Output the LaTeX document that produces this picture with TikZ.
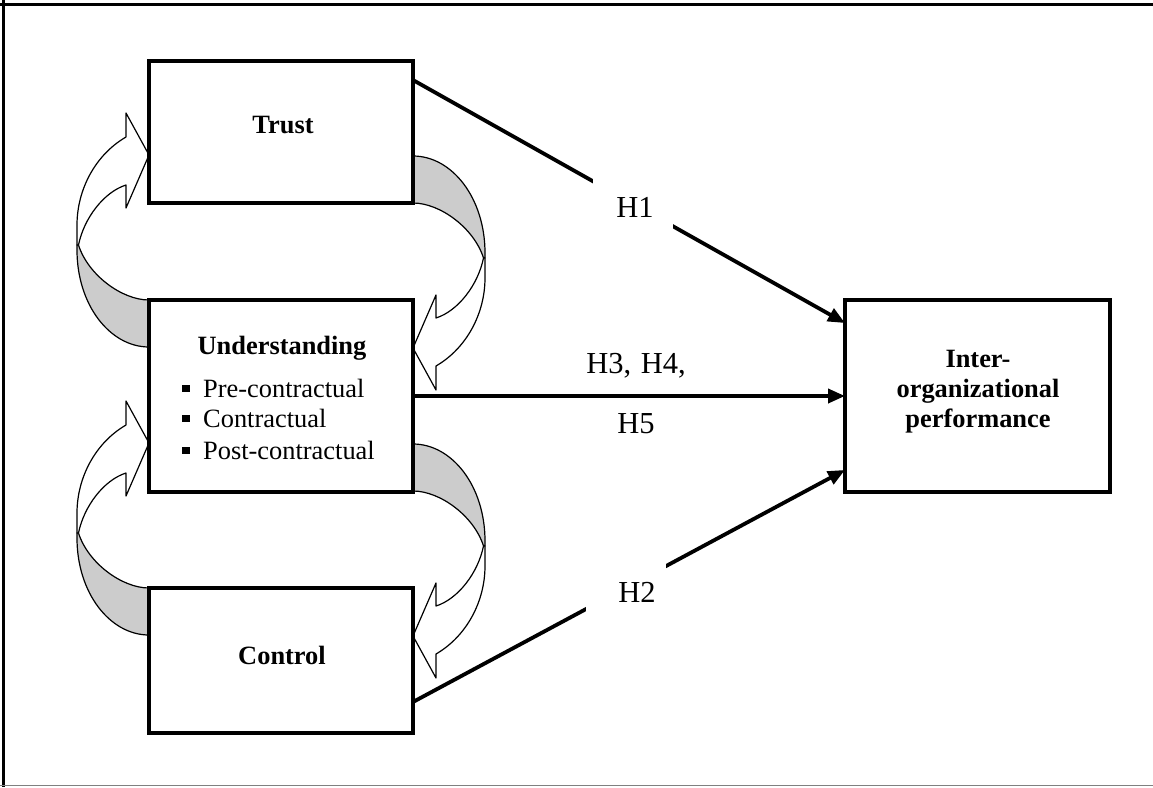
\documentclass[tikz,border=0pt]{standalone}
\usepackage{fontspec}
\setmainfont{Liberation Serif}
\usetikzlibrary{arrows.meta,calc}
\definecolor{shade}{RGB}{204,204,204}
\tikzset{
  box/.style={draw, line width=3.5pt, fill=white, inner sep=0pt, outer sep=0pt},
  txt/.style={font=\fontsize{26.4}{31}\selectfont, inner sep=0pt},
  htxt/.style={font=\fontsize{30.5}{34}\selectfont, inner sep=0pt},
  btxt/.style={font=\fontsize{26.4}{31}\selectfont\bfseries, inner sep=0pt},
  conn/.style={line width=3.8pt, -{Triangle[length=17pt,width=14pt]}},
  gapbox/.style={fill=white, minimum width=80pt, minimum height=50pt, inner sep=0pt},
  thinline/.style={line width=1.2pt, line join=round},
  curvearrow/.pic={
    % shaded back of the band
    \filldraw[thinline, fill=shade]
      (-72,90) -- (-72,95) .. controls (-72,150) and (-39,192) .. (0,192)
      -- (0,145) .. controls (-27,145) and (-61,120) .. (-70.5,90) -- cycle;
    % white band with head
    \filldraw[thinline, fill=white]
      (-70.5,90) .. controls (-65,63) and (-45,37) .. (-23,30)
      -- (-23,53) -- (0,0) -- (-23,-42) -- (-23,-18)
      .. controls (-54,0) and (-72,35) .. (-72,70) -- (-72,90) -- cycle;
  }
}
\begin{document}
\begin{tikzpicture}[x=1pt,y=-1pt]
\useasboundingbox (0,0) rectangle (1153,787);
% frame
\draw[line width=3pt] (0,4.5) -- (1153,4.5);
\draw[line width=3pt] (3.5,0) -- (3.5,787);
\draw[line width=1.5pt, gray] (0,785.5) -- (1153,785.5);

% curved arrows
\pic at (149,155) {curvearrow};
\pic at (149,443) {curvearrow};
\pic[rotate=180] at (413,348) {curvearrow};
\pic[rotate=180] at (413,636) {curvearrow};

% boxes
\node[box, minimum width=264pt, minimum height=142pt] (trust) at (281,132) {};
\node[box, minimum width=264pt, minimum height=192pt] (und) at (281,396) {};
\node[box, minimum width=264pt, minimum height=145pt] (ctrl) at (281,660.5) {};
\node[box, minimum width=265pt, minimum height=192pt] (perf) at (977.5,396) {};

% connectors
\draw[conn] ($(trust.north east)!0.134!(trust.south east)$)
  -- node[gapbox, pos=0.509] (g1) {} ($(perf.north west)!0.12!(perf.south west)$);
\draw[conn] ($(ctrl.north east)!0.786!(ctrl.south east)$)
  -- node[gapbox, pos=0.493] (g2) {} ($(perf.north west)!0.885!(perf.south west)$);
\draw[conn] (und.east) -- (perf.west);

% texts
\node[btxt, anchor=base] (ttrust) at (283,133) {Trust};
\node[btxt, anchor=base] (tund) at (282,354) {Understanding};
\node[txt, anchor=base west] (u1) at (182,397) {\rule[5pt]{7.5pt}{7.5pt}\hspace{13.5pt}Pre-contractual};
\node[txt, anchor=base west] (u2) at (182,427) {\rule[5pt]{7.5pt}{7.5pt}\hspace{13.5pt}Contractual};
\node[txt, anchor=base west] (u3) at (182,459) {\rule[5pt]{7.5pt}{7.5pt}\hspace{13.5pt}Post-contractual};
\node[btxt, anchor=base] (tctrl) at (282,664) {Control};
\node[btxt, anchor=base] (p1) at (978,367) {Inter-};
\node[btxt, anchor=base] (p2) at (978,397) {organizational};
\node[btxt, anchor=base] (p3) at (978,427) {performance};
\node[htxt, anchor=base] (h1) at (635,217) {H1};
\node[htxt, anchor=base] (h2) at (637,602) {H2};
\node[htxt, anchor=base] (h34) at (636,373) {H3,\hspace{2pt} H4,};
\node[htxt, anchor=base] (h5) at (636,433) {H5};
\end{tikzpicture}
\end{document}
